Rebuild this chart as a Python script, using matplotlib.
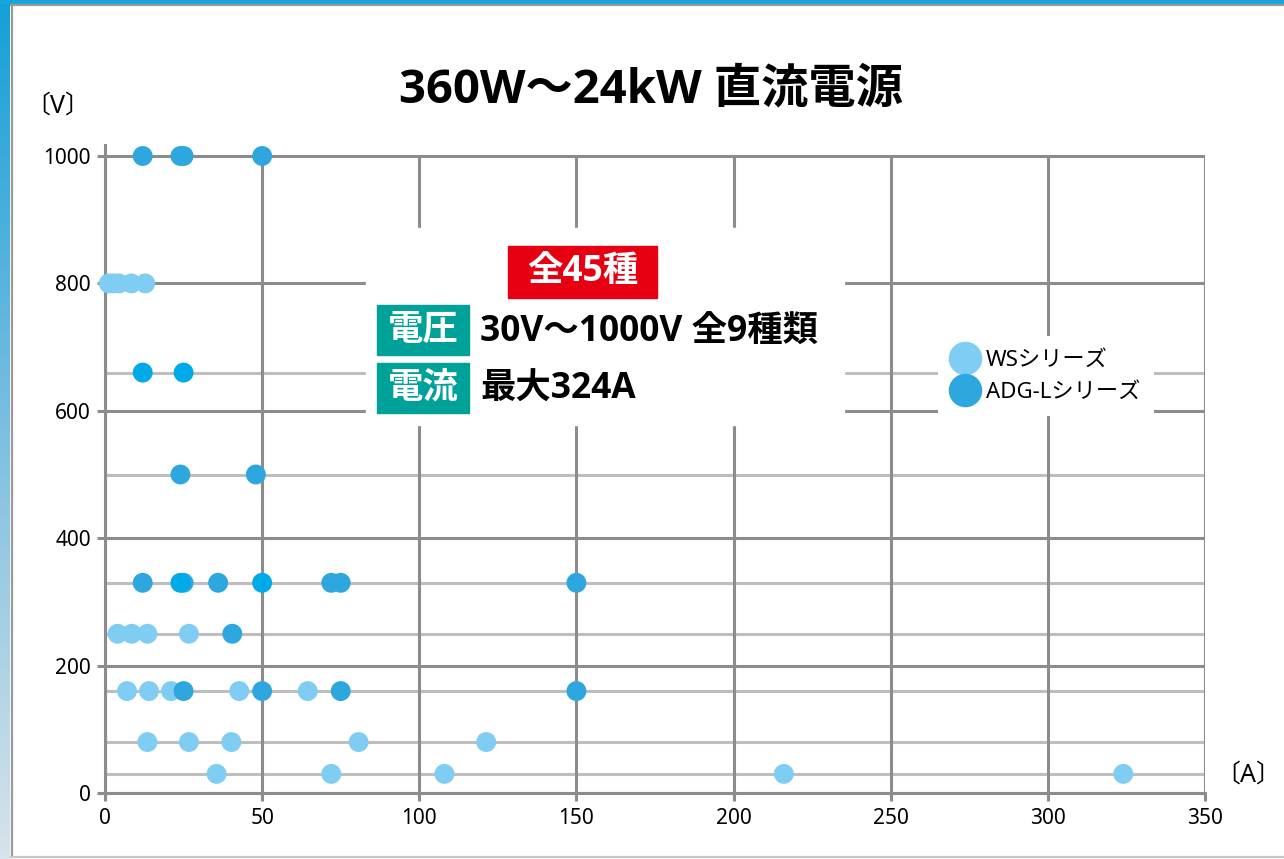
import matplotlib.pyplot as plt
from matplotlib.patches import Rectangle
from matplotlib.lines import Line2D
from matplotlib.colors import LinearSegmentedColormap
import numpy as np

plt.rcParams['font.family'] = ['Noto Sans', 'Noto Sans CJK JP', 'DejaVu Sans']
bold_family = ['Open Sans', 'Noto Sans CJK JP', 'DejaVu Sans']

# WSシリーズ (A, V)
ws_current = [35.5, 72, 108, 216, 324,
              13.5, 26.7, 40.2, 80.7, 121.3,
              7, 14, 21, 42.7, 64.5,
              4, 8.5, 13.5, 26.7,
              1.2, 2.7, 4.5, 8.4, 12.8]
ws_voltage = [30] * 5 + [80] * 5 + [160] * 5 + [250] * 4 + [800] * 5

# ADG-Lシリーズ (A, V)
adg_current = [12, 25, 24, 50,
               12, 25,
               24, 48,
               12, 25, 24, 36, 50, 72, 75, 150,
               40.5,
               25, 50, 75, 150]
adg_voltage = [1000] * 4 + [660] * 2 + [500] * 2 + [330] * 8 + [250] + [160] * 4

voltage_levels = [30, 80, 160, 250, 330, 500, 660]
x_ticks = [0, 50, 100, 150, 200, 250, 300, 350]
y_ticks = [0, 200, 400, 600, 800, 1000]

title = '360W〜24kW 直流電源'
series_names = ['WSシリーズ', 'ADG-Lシリーズ']

W, H = 1284, 859
fig = plt.figure(figsize=(W / 100, H / 100), dpi=100)

# card frame
bg = fig.add_axes([0, 0, 1, 1], zorder=-10)
bg.set_xlim(0, W)
bg.set_ylim(H, 0)
bg.axis('off')
grad = np.linspace(0, 1, 256).reshape(-1, 1)
cm = LinearSegmentedColormap.from_list('edge', ['#14a0d8', '#7cbfe0', '#d8e3ea'])
bg.imshow(grad, cmap=cm, extent=(0, 10, H, 0), aspect='auto')
bg.add_patch(Rectangle((0, 0), W, 3, color='#18a5dc'))
bg.plot([11, W], [5, 5], color='#9a9a9a', lw=1.6)
bg.plot([11.5, 11.5], [5, 857], color='#9a9a9a', lw=1.6)
bg.plot([11, W], [857, 857], color='#c8c8c8', lw=1.6)

# main plot
ax = fig.add_axes([105 / W, 66 / H, 1100 / W, 648 / H])
ax.set_xlim(0, 350)
ax.set_ylim(0, 1000 * 648 / 637)
ax.patch.set_alpha(0)

grid_c = '#8c8c8c'
ax.hlines(voltage_levels, 0, 350, color='#bebebe', lw=2.2, zorder=1)
ax.vlines(x_ticks, 0, 1000, color=grid_c, lw=2.2, zorder=1.2)
ax.hlines(y_ticks, 0, 350, color=grid_c, lw=2.2, zorder=1.2)

for s in ['top', 'right']:
    ax.spines[s].set_visible(False)
for s in ['left', 'bottom']:
    ax.spines[s].set_color(grid_c)
    ax.spines[s].set_linewidth(2.2)

ax.set_xticks(x_ticks)
ax.set_yticks(y_ticks)
ax.tick_params(axis='both', length=6, width=2.2, color=grid_c, labelsize=15)
ax.tick_params(axis='x', pad=5)
ax.tick_params(axis='y', pad=4)

ax.scatter(ws_current, ws_voltage, s=205, color='#7fcdf2', edgecolors='none',
           zorder=3, clip_on=False)
adg_colors = ['#00a9e8' if (v == 660 or (v == 330 and c in (24, 50))) else '#2ea7df'
              for c, v in zip(adg_current, adg_voltage)]
ax.scatter(adg_current, adg_voltage, s=205, color=adg_colors, edgecolors='none',
           zorder=4, clip_on=False)

handles = [Line2D([], [], marker='o', ls='none', ms=21, mec='none', color='#7fcdf2'),
           Line2D([], [], marker='o', ls='none', ms=21, mec='none', color='#2ea7df')]
leg = ax.legend(handles, series_names, loc='center',
                bbox_to_anchor=(1046 / W, 1 - 376 / H), bbox_transform=fig.transFigure,
                fontsize=16, frameon=True, facecolor='white', edgecolor='none',
                framealpha=1, fancybox=False, handletextpad=0.35, labelspacing=0.5,
                borderpad=0.6, handlelength=1.2, markerscale=1.15)
leg.set_zorder(6)

# overlay texts / boxes in pixel coordinates
ov = fig.add_axes([0, 0, 1, 1], zorder=5)
ov.set_xlim(0, W)
ov.set_ylim(H, 0)
ov.axis('off')
ov.patch.set_alpha(0)

ov.text(651, 90, title, fontsize=34, fontweight='bold', family=bold_family,
        ha='center', va='center')
ov.text(58, 106, '〔V〕', fontsize=18, ha='center', va='center')
ov.text(1248, 775, '〔A〕', fontsize=18, ha='center', va='center')

ov.add_patch(Rectangle((366, 228), 478, 197, color='white'))
ov.add_patch(Rectangle((508, 246), 149, 52, color='#e60012'))
ov.text(582.5, 272, '全45種', fontsize=25.5, fontweight='bold', family=bold_family,
        color='white', ha='center', va='center')
teal = '#00a199'
for y0, lab in [(305, '電圧'), (363, '電流')]:
    ov.add_patch(Rectangle((377, y0), 92, 50, color=teal))
    ov.text(423, y0 + 26, lab, fontsize=25.5, fontweight='bold', family=bold_family,
            color='white', ha='center', va='center')
ov.text(480, 333, '30V〜1000V 全9種類', fontsize=25.5, fontweight='bold',
        family=bold_family, ha='left', va='center')
ov.text(480, 390, '最大324A', fontsize=25.5, fontweight='bold', family=bold_family,
        ha='left', va='center')

fig.savefig('out.png', dpi=100)
